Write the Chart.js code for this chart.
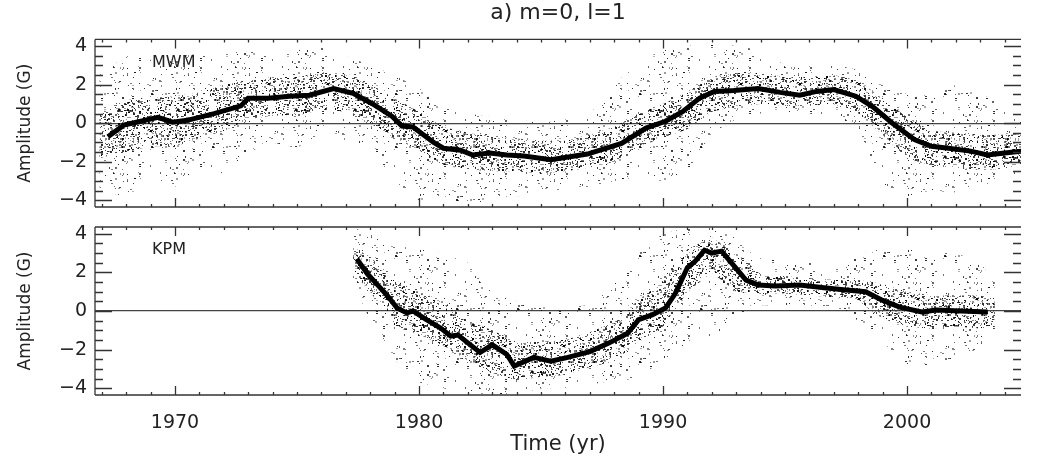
<!DOCTYPE html>
<html>
<head>
<meta charset="utf-8">
<script src="https://cdn.jsdelivr.net/npm/chart.js@4.4.1/dist/chart.umd.min.js"></script>
<style>
  body { margin: 0; background: #fff; }
  #wrap { position: relative; width: 1037px; height: 457px; background: #fff; }
  canvas { position: absolute; left: 0; }
  #top { top: 0; }
  #bot { top: 215px; }
</style>
</head>
<body>
<div id="wrap">
  <canvas id="top" width="1037" height="215"></canvas>
  <canvas id="bot" width="1037" height="242"></canvas>
</div>
<script>
// smoothed amplitude
const mwmYears = [1967.25, 1967.9, 1968.6, 1969.3, 1969.9, 1970.5, 1971.6, 1972.7, 1973.0, 1973.8, 1974.7, 1975.5, 1976.5, 1977.3, 1978.1, 1978.9, 1979.3, 1979.75, 1980.6, 1981.0, 1981.7, 1982.2, 1982.9, 1983.6, 1984.3, 1985.4, 1986.9, 1988.3, 1989.3, 1990.1, 1990.8, 1991.5, 1992.1, 1992.9, 1993.9, 1994.8, 1995.6, 1996.3, 1997.0, 1997.9, 1998.6, 1999.4, 2000.3, 2001.0, 2001.7, 2002.6, 2003.3, 2004.0, 2004.7];
const mwmAmp = [-0.7, -0.1, 0.1, 0.3, 0.05, 0.15, 0.5, 0.9, 1.3, 1.3, 1.4, 1.45, 1.8, 1.55, 1.0, 0.35, -0.15, -0.2, -1.0, -1.3, -1.4, -1.65, -1.55, -1.65, -1.7, -1.9, -1.6, -1.05, -0.25, 0.1, 0.6, 1.3, 1.65, 1.7, 1.8, 1.6, 1.45, 1.65, 1.75, 1.4, 0.85, 0.0, -0.85, -1.2, -1.3, -1.45, -1.65, -1.55, -1.45];

const kpmYears = [1977.45, 1977.9, 1978.3, 1978.7, 1979.1, 1979.5, 1979.75, 1980.3, 1980.9, 1981.3, 1981.6, 1982.0, 1982.5, 1983.0, 1983.3, 1983.6, 1983.9, 1984.7, 1985.4, 1986.1, 1987.0, 1987.8, 1988.55, 1989.0, 1989.55, 1990.1, 1990.5, 1991.0, 1991.3, 1991.7, 1992.0, 1992.4, 1992.9, 1993.4, 1993.9, 1994.6, 1995.6, 1996.6, 1997.4, 1998.3, 1999.0, 1999.7, 2000.6, 2001.2, 2002.2, 2003.3];
const kpmAmp = [2.7, 1.9, 1.35, 0.8, 0.15, -0.1, 0.0, -0.45, -0.9, -1.3, -1.25, -1.65, -2.15, -1.75, -2.0, -2.25, -2.85, -2.4, -2.6, -2.4, -2.1, -1.65, -1.15, -0.45, -0.2, 0.15, 0.9, 2.25, 2.55, 3.15, 3.0, 3.1, 2.35, 1.6, 1.35, 1.3, 1.35, 1.2, 1.1, 1.0, 0.55, 0.2, -0.05, 0.05, 0.0, -0.05];

// spread of the individual measurements (outer = sparse edge, inner = dense core)
const mwmSpreadYears = [1966.9, 1968, 1969, 1970, 1971, 1972, 1973, 1974, 1975, 1976, 1977, 1978, 1979, 1980, 1981, 1982, 1983, 1984, 1985, 1986, 1987, 1988, 1989, 1990, 1991, 1992, 1993, 1994, 1995, 1996, 1997, 1998, 1999, 2000, 2001, 2002, 2003, 2004, 2004.7];
const mwmOuterHi = [2.5, 3.5, 3.3, 3.5, 3.6, 3.8, 3.7, 3.8, 3.8, 4.0, 3.5, 3.0, 2.5, 1.8, 1.0, 0.5, 0.3, 0.2, 0.0, 0.2, 0.5, 2.0, 3.2, 3.8, 4.0, 4.2, 4.0, 3.8, 3.0, 3.2, 3.0, 2.8, 2.0, 1.5, 1.5, 2.0, 1.5, 1.0, 0.5];
const mwmOuterLo = [-3.5, -3.8, -3.0, -3.3, -2.5, -2.6, -1.5, -1.0, -1.3, -0.5, -1.0, -1.2, -3.0, -4.0, -4.0, -4.2, -4.0, -3.8, -3.6, -3.4, -3.3, -3.0, -2.8, -3.0, -2.5, -0.5, 0.2, 0.5, 0.5, 0.5, 0.3, -0.3, -3.2, -3.8, -3.5, -3.6, -3.2, -3.0, -2.5];
const mwmInnerHi = [0.5, 1.2, 1.3, 1.4, 1.6, 2.0, 2.2, 2.4, 2.4, 2.6, 2.6, 2.0, 1.3, 0.6, -0.2, -0.5, -0.7, -0.8, -0.9, -0.9, -0.6, -0.2, 0.5, 1.0, 1.6, 2.4, 2.6, 2.6, 2.4, 2.4, 2.5, 2.2, 1.3, 0.3, -0.4, -0.5, -0.6, -0.6, -0.6];
const mwmInnerLo = [-1.8, -1.5, -1.2, -1.2, -0.8, -0.4, 0.2, 0.4, 0.4, 0.7, 0.6, 0.0, -0.8, -1.4, -2.2, -2.4, -2.5, -2.5, -2.6, -2.5, -2.3, -2.0, -1.2, -0.8, -0.3, 0.6, 0.9, 1.0, 0.9, 0.9, 1.0, 0.5, -0.6, -1.8, -2.2, -2.3, -2.4, -2.4, -2.2];

const kpmSpreadYears = [1977.3, 1978, 1979, 1980, 1981, 1982, 1983, 1984, 1985, 1986, 1987, 1988, 1989, 1990, 1991, 1992, 1993, 1994, 1995, 1996, 1997, 1998, 1999, 2000, 2001, 2002, 2003, 2003.6];
const kpmOuterHi = [4.3, 4.0, 3.5, 3.3, 3.0, 2.5, 1.0, 0.5, 0.3, 0.2, 0.3, 1.5, 3.0, 4.0, 4.3, 4.3, 3.8, 2.8, 2.5, 2.5, 2.4, 3.0, 3.2, 3.2, 3.0, 3.0, 2.5, 1.5];
const kpmOuterLo = [1.5, -0.5, -2.5, -3.7, -4.0, -4.3, -4.3, -4.3, -4.0, -4.0, -3.8, -3.6, -3.5, -2.5, -1.8, -1.5, -0.2, 0.3, 0.3, 0.2, 0.3, -0.5, -1.6, -2.8, -2.8, -2.4, -2.0, -1.0];
const kpmInnerHi = [3.3, 2.8, 1.6, 1.0, 0.5, -0.5, -1.0, -1.6, -1.6, -1.5, -1.1, -0.6, 0.6, 1.5, 3.2, 3.8, 3.0, 1.9, 1.8, 1.7, 1.6, 1.6, 1.4, 1.0, 0.8, 0.8, 0.8, 0.6];
const kpmInnerLo = [2.0, 1.0, -0.8, -1.2, -1.8, -2.6, -3.2, -3.6, -3.4, -3.3, -2.9, -2.6, -1.6, -0.8, 1.0, 2.0, 1.0, 0.9, 0.9, 0.8, 0.7, 0.5, -0.4, -0.8, -0.9, -0.8, -0.9, -0.7];

const yTicks = [-4, -2, 0, 2, 4];
const xTicks = [1970, 1980, 1990, 2000];
const xMin = 1966.72, xMax = 2004.67;
const yMin = -4.35, yMax = 4.35;

const FONT = 'DejaVu Sans, sans-serif';
const INK = '#222';

const pts = (xs, ys) => xs.map((x, i) => ({ x: x, y: ys[i] }));

// speckle texture standing in for the cloud of daily points
function speckle(ctx, w, h, n, seed, aLo, aHi) {
  const c = document.createElement('canvas');
  c.width = w; c.height = h;
  const g = c.getContext('2d');
  let s = seed;
  const next = () => (s = (s * 16807) % 2147483647) / 2147483647;
  for (let i = 0; i < n; i++) {
    const px = Math.floor(next() * w), py = Math.floor(next() * h);
    g.fillStyle = 'rgba(0,0,0,' + (aLo + next() * (aHi - aLo)).toFixed(2) + ')';
    g.fillRect(px, py, next() < 0.45 ? 2 : 1, next() < 0.3 ? 2 : 1);
  }
  return ctx.createPattern(c, 'repeat');
}

const frameTicks = {
  id: 'frameTicks',
  afterDatasetsDraw(chart) {
    const { ctx, chartArea: a, scales: { x, y } } = chart;
    ctx.save();
    ctx.strokeStyle = '#333';
    ctx.lineWidth = 1.3;
    ctx.beginPath();
    ctx.moveTo(a.left, a.top); ctx.lineTo(a.right, a.top);
    ctx.moveTo(a.left, a.bottom); ctx.lineTo(a.right, a.bottom);
    ctx.moveTo(a.left, a.top); ctx.lineTo(a.left, a.bottom);
    for (let v = -4; v <= 4; v += 0.5) {
      const py = Math.round(y.getPixelForValue(v)) + 0.5;
      const len = v % 2 === 0 ? 17 : 8;
      ctx.moveTo(a.left, py); ctx.lineTo(a.left + len, py);
      ctx.moveTo(a.right, py); ctx.lineTo(a.right - len, py);
    }
    for (let yr = Math.ceil(x.min); yr <= x.max; yr++) {
      const px = Math.round(x.getPixelForValue(yr)) + 0.5;
      const len = yr % 10 === 0 ? 9 : 3;
      ctx.moveTo(px, a.top); ctx.lineTo(px, a.top + len);
      ctx.moveTo(px, a.bottom); ctx.lineTo(px, a.bottom - len);
    }
    ctx.stroke();
    ctx.restore();
  }
};

const panelTag = {
  id: 'panelTag',
  afterDraw(chart, args, opts) {
    const { ctx, chartArea: a } = chart;
    ctx.save();
    ctx.font = '16px ' + FONT;
    ctx.fillStyle = INK;
    ctx.textBaseline = 'middle';
    ctx.fillText(opts.text, a.left + 57, a.top + 23);
    ctx.restore();
  }
};

function makePanel(id, tag, years, amp, sYears, oHi, oLo, iHi, iLo, isBottom) {
  const ctx = document.getElementById(id).getContext('2d');
  const outerTex = speckle(ctx, 61, 53, 85, 7 + tag.length, 0.3, 0.9);
  const innerTex = speckle(ctx, 59, 47, 360, 101 + tag.length, 0.3, 1.0);
  return new Chart(ctx, {
    type: 'line',
    data: {
      datasets: [
        { label: tag, data: pts(years, amp), borderColor: '#000', borderWidth: 5,
          pointRadius: 0, tension: 0, fill: false, order: 0 },
        { data: pts(sYears, iHi), borderWidth: 0, pointRadius: 0, fill: '+1',
          backgroundColor: innerTex, order: 1 },
        { data: pts(sYears, iLo), borderWidth: 0, pointRadius: 0, fill: false, order: 2 },
        { data: pts(sYears, oHi), borderWidth: 0, pointRadius: 0, fill: '+1',
          backgroundColor: outerTex, order: 3 },
        { data: pts(sYears, oLo), borderWidth: 0, pointRadius: 0, fill: false, order: 4 }
      ]
    },
    options: {
      responsive: false,
      animation: false,
      events: [],
      layout: { padding: { left: 0, right: 16, top: isBottom ? 12 : 0, bottom: 0 } },
      plugins: {
        legend: { display: false },
        tooltip: { enabled: false },
        title: {
          display: !isBottom, text: 'a) m=0, l=1', fullSize: false, color: INK,
          font: { family: FONT, size: 22, weight: 'normal' },
          padding: { top: 0, bottom: 13 }
        },
        panelTag: { text: tag }
      },
      scales: {
        x: {
          type: 'linear', min: xMin, max: xMax,
          afterBuildTicks: s => { s.ticks = xTicks.map(v => ({ value: v })); },
          ticks: { display: isBottom, color: INK, font: { family: FONT, size: 19 }, padding: 17,
                   maxRotation: 0, callback: v => String(v) },
          grid: { display: false, drawTicks: false },
          border: { display: false },
          title: { display: isBottom, text: 'Time (yr)', color: INK,
                   font: { family: FONT, size: 21 }, padding: { top: 0, bottom: 0 } },
          afterFit: s => { s.height = isBottom ? 62 : 8; s.paddingLeft = 0; s.paddingRight = 0; }
        },
        y: {
          min: yMin, max: yMax,
          afterBuildTicks: s => { s.ticks = yTicks.map(v => ({ value: v })); },
          ticks: { color: INK, font: { family: FONT, size: 19 }, padding: 8,
                   callback: v => String(v).replace('-', '\u2212') },
          grid: { drawTicks: false, lineWidth: 1.2,
                  color: c => (c.tick && c.tick.value === 0) ? '#444' : 'rgba(0,0,0,0)' },
          border: { display: false },
          title: { display: true, text: 'Amplitude (G)', color: INK,
                   font: { family: FONT, size: 17 }, padding: { top: 15, bottom: 0 } },
          afterFit: s => { s.width = 95; s.paddingTop = 0; s.paddingBottom = 0; }
        }
      }
    },
    plugins: [frameTicks, panelTag]
  });
}

makePanel('top', 'MWM', mwmYears, mwmAmp, mwmSpreadYears, mwmOuterHi, mwmOuterLo, mwmInnerHi, mwmInnerLo, false);
makePanel('bot', 'KPM', kpmYears, kpmAmp, kpmSpreadYears, kpmOuterHi, kpmOuterLo, kpmInnerHi, kpmInnerLo, true);
</script>
</body>
</html>
